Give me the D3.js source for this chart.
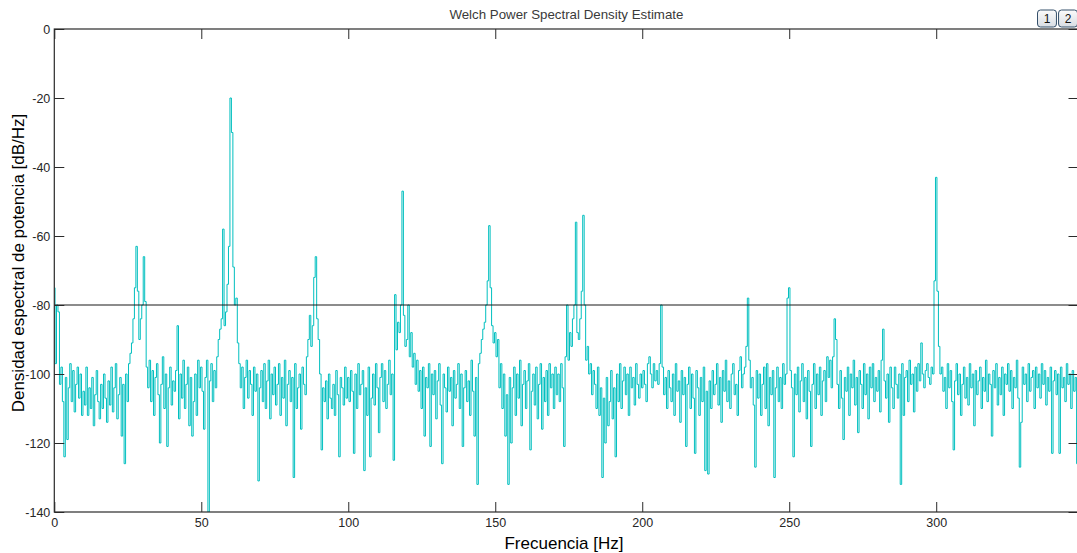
<!DOCTYPE html>
<html><head><meta charset="utf-8">
<script src="https://cdn.jsdelivr.net/npm/d3@7"></script>
<style>body{margin:0;background:#fff;overflow:hidden;} svg{display:block;}</style>
</head><body><svg id="chart" width="1077" height="553"></svg>
<script>
// ---- chart text and ticks ----
const chartTitle = "Welch Power Spectral Density Estimate";
const xLabel = "Frecuencia [Hz]";
const yLabel = "Densidad espectral de potencia [dB/Hz]";
const xTicks = [0, 50, 100, 150, 200, 250, 300];
const yTicks = [0, -20, -40, -60, -80, -100, -120, -140];
const thresholdDb = -80;
const buttonLabels = ["1", "2"];

// ---- PSD values (dB/Hz), one value every 0.5 Hz ----
const binWidth = 0.5;
const segmentStarts = [0, 50, 100, 150, 200, 250, 300];
const psd000 = [
  -75, -97, -80, -82, -103, -98, -108, -124, -101, -119,
  -104, -97, -108, -99, -111, -103, -98, -107, -100, -112,
  -105, -109, -98, -112, -104, -110, -101, -115, -106, -99,
  -108, -113, -103, -110, -100, -107, -114, -102, -109, -98,
  -111, -104, -97, -113, -106, -101, -118, -103, -126, -100,
  -108, -97, -94, -91, -84, -75, -63, -76, -90, -84,
  -80, -66, -79, -98, -104, -96, -108, -99, -112, -101,
  -97, -106, -120, -103, -95, -110, -100, -121, -104, -98,
  -109, -102, -105, -99, -86, -113, -100, -107, -96, -110,
  -103, -98, -115, -101, -118, -108, -100, -112, -96, -104];
const psd050 = [
  -98, -105, -116, -101, -96, -140, -102, -97, -108, -99,
  -104, -95, -90, -87, -84, -58, -86, -82, -74, -63,
  -20, -30, -69, -80, -78, -91, -97, -104, -98, -110,
  -101, -96, -107, -99, -103, -112, -98, -105, -100, -131,
  -104, -99, -108, -97, -110, -102, -96, -113, -100, -106,
  -98, -109, -103, -97, -112, -101, -107, -96, -115, -103,
  -99, -108, -101, -130, -97, -110, -104, -100, -116, -98,
  -103, -106, -95, -90, -83, -92, -86, -72, -66, -84,
  -90, -100, -122, -104, -108, -102, -113, -100, -107, -110,
  -103, -112, -99, -106, -124, -101, -104, -109, -98, -107];
const psd100 = [
  -101, -108, -99, -105, -123, -100, -110, -97, -106, -103,
  -99, -128, -104, -112, -98, -124, -107, -100, -109, -97,
  -104, -117, -101, -97, -108, -99, -110, -103, -96, -106,
  -100, -125, -77, -93, -85, -88, -80, -47, -83, -92,
  -90, -80, -95, -88, -98, -94, -103, -96, -105, -99,
  -110, -98, -118, -101, -104, -97, -121, -100, -106, -99,
  -113, -102, -97, -109, -126, -100, -104, -111, -98, -105,
  -101, -115, -99, -107, -103, -97, -110, -100, -121, -104,
  -99, -108, -102, -112, -96, -105, -118, -101, -132, -97,
  -94, -90, -87, -85, -80, -73, -57, -75, -86, -91];
const psd150 = [
  -88, -95, -90, -104, -97, -110, -100, -118, -106, -132,
  -101, -120, -104, -98, -112, -100, -107, -96, -115, -103,
  -99, -110, -102, -97, -122, -105, -100, -109, -98, -113,
  -103, -97, -116, -101, -108, -99, -112, -97, -104, -100,
  -110, -98, -106, -100, -108, -97, -104, -121, -95, -80,
  -96, -88, -92, -84, -80, -56, -88, -90, -84, -76,
  -54, -80, -96, -92, -100, -97, -106, -99, -103, -110,
  -98, -112, -104, -130, -107, -120, -101, -115, -108, -99,
  -113, -104, -124, -100, -108, -97, -110, -102, -98, -106,
  -100, -112, -98, -104, -101, -109, -97, -103, -107, -100];
const psd200 = [
  -104, -99, -103, -108, -97, -95, -100, -104, -97, -102,
  -99, -103, -97, -80, -98, -106, -101, -110, -99, -104,
  -108, -100, -112, -97, -105, -102, -114, -99, -106, -101,
  -121, -103, -98, -110, -100, -107, -123, -99, -104, -112,
  -101, -108, -98, -128, -105, -129, -102, -110, -99, -106,
  -103, -97, -109, -101, -114, -99, -105, -96, -108, -102,
  -110, -100, -97, -106, -103, -112, -99, -95, -104, -100,
  -98, -92, -78, -96, -104, -101, -109, -127, -99, -107,
  -100, -112, -103, -98, -110, -97, -115, -101, -106, -99,
  -130, -104, -98, -108, -101, -110, -97, -103, -100, -78];
const psd250 = [
  -75, -99, -104, -124, -100, -106, -98, -111, -102, -97,
  -108, -101, -113, -99, -105, -121, -103, -97, -110, -100,
  -106, -98, -112, -102, -99, -108, -95, -101, -96, -104,
  -95, -84, -90, -103, -110, -99, -107, -119, -101, -105,
  -98, -112, -100, -104, -96, -109, -101, -117, -99, -103,
  -110, -97, -106, -100, -113, -98, -104, -97, -108, -101,
  -105, -99, -111, -96, -87, -102, -107, -100, -114, -98,
  -104, -110, -98, -103, -107, -100, -132, -97, -112, -101,
  -99, -108, -96, -103, -100, -111, -98, -105, -97, -102,
  -91, -100, -104, -99, -97, -101, -103, -98, -100, -73];
const psd300 = [
  -43, -76, -92, -100, -98, -105, -101, -110, -97, -104,
  -99, -108, -122, -102, -97, -106, -100, -112, -103, -98,
  -107, -101, -109, -97, -104, -100, -115, -99, -106, -102,
  -98, -110, -101, -105, -96, -108, -100, -103, -118, -99,
  -104, -97, -109, -101, -106, -98, -112, -100, -103, -97,
  -105, -99, -110, -101, -104, -96, -107, -127, -114, -98,
  -103, -100, -108, -97, -105, -101, -99, -110, -98, -104,
  -100, -107, -97, -103, -99, -109, -101, -105, -98, -123,
  -102, -99, -106, -100, -123, -98, -104, -101, -108, -97,
  -103, -100, -110, -99, -105, -101, -126];

const segments = [psd000, psd050, psd100, psd150, psd200, psd250, psd300];
const data = [];
segments.forEach((seg, s) => seg.forEach((v, i) => data.push({f: segmentStarts[s] + i * binWidth, db: v})));

// ---- layout ----
const svg = d3.select("#chart");
const mLeft = 54.3, mRight = 1078.5, mTop = 29, mBottom = 512;
const x = d3.scaleLinear().domain([0, 348.4]).range([mLeft, mRight]);
const y = d3.scaleLinear().domain([-140, 0]).range([mBottom, mTop]);
const axisColor = "#2a2a2a";
const font = "'Liberation Sans', Arial, sans-serif";

svg.append("rect").attr("width", 1077).attr("height", 553).attr("fill", "#fff");

svg.append("clipPath").attr("id", "plotclip").append("rect")
  .attr("x", mLeft).attr("y", mTop).attr("width", mRight - mLeft).attr("height", mBottom - mTop);

// data line
svg.append("path").datum(data)
  .attr("clip-path", "url(#plotclip)")
  .attr("fill", "none").attr("stroke", "#00bfbf").attr("stroke-width", 1)
  .attr("d", d3.line().curve(d3.curveStep).x(d => x(d.f)).y(d => y(d.db)));

// threshold line
svg.append("line")
  .attr("x1", mLeft).attr("x2", mRight).attr("y1", y(thresholdDb)).attr("y2", y(thresholdDb))
  .attr("stroke", "#1a1a1a").attr("stroke-width", 1.2);

// axes
function styleAxis(g) {
  g.select(".domain").remove();
  g.selectAll(".tick line").attr("stroke", axisColor);
  g.selectAll(".tick text").attr("fill", "#262626").attr("font-family", font).attr("font-size", "12.5px");
}
const fmt = d => String(d);
svg.append("g").attr("transform", `translate(0,${mBottom})`)
  .call(d3.axisBottom(x).tickValues(xTicks).tickSizeInner(-10).tickSizeOuter(0).tickPadding(6).tickFormat(fmt))
  .call(styleAxis);
svg.append("g").attr("transform", `translate(0,${mTop})`)
  .call(d3.axisTop(x).tickValues(xTicks).tickSizeInner(-10).tickSizeOuter(0).tickFormat(""))
  .call(styleAxis);
svg.append("g").attr("transform", `translate(${mLeft},0)`)
  .call(d3.axisLeft(y).tickValues(yTicks).tickSizeInner(-10).tickSizeOuter(0).tickPadding(4).tickFormat(fmt))
  .call(styleAxis);
svg.append("g").attr("transform", `translate(${mRight},0)`)
  .call(d3.axisRight(y).tickValues(yTicks).tickSizeInner(-10).tickSizeOuter(0).tickFormat(""))
  .call(styleAxis);

// box
svg.append("rect").attr("x", mLeft).attr("y", mTop).attr("width", mRight - mLeft).attr("height", mBottom - mTop)
  .attr("fill", "none").attr("stroke", axisColor).attr("stroke-width", 1.2);

// titles
svg.append("text").attr("x", (mLeft + mRight) / 2).attr("y", 19).attr("text-anchor", "middle")
  .attr("font-family", font).attr("font-size", "13.3px").attr("fill", "#3a3a3a").text(chartTitle);
svg.append("text").attr("x", 564).attr("y", 549).attr("text-anchor", "middle")
  .attr("font-family", font).attr("font-size", "17px").attr("fill", "#000").text(xLabel);
svg.append("text").attr("transform", "translate(24,263) rotate(-90)").attr("text-anchor", "middle")
  .attr("font-family", font).attr("font-size", "17px").attr("fill", "#000").text(yLabel);

// buttons
const defs = svg.append("defs");
const grad = defs.append("linearGradient").attr("id", "btn").attr("x1", 0).attr("x2", 0).attr("y1", 0).attr("y2", 1);
grad.append("stop").attr("offset", "0%").attr("stop-color", "#fbfbfb");
grad.append("stop").attr("offset", "100%").attr("stop-color", "#d8dde3");
const bx = d3.scaleBand().domain(buttonLabels).range([1037.5, 1077.5]).paddingInner(0.1);
const btn = svg.append("g").selectAll("g").data(buttonLabels).join("g")
  .attr("transform", d => `translate(${bx(d)},10)`);
btn.append("rect").attr("width", bx.bandwidth()).attr("height", 17).attr("rx", 3)
  .attr("fill", "url(#btn)").attr("stroke", "#35506b").attr("stroke-width", 1);
btn.append("text").attr("x", bx.bandwidth() / 2).attr("y", 13).attr("text-anchor", "middle")
  .attr("font-family", font).attr("font-size", "12px").attr("fill", "#111").text(d => d);
</script></body></html>
